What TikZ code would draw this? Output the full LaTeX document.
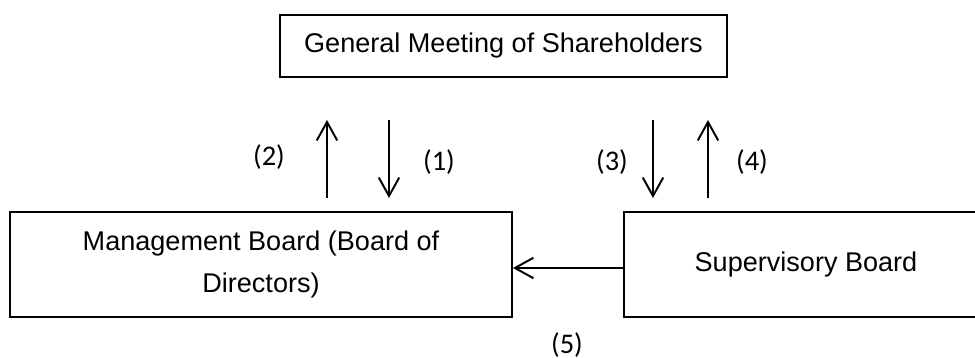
\documentclass[tikz,border=0pt]{standalone}
\usepackage{fontspec}
\setmainfont{Liberation Sans}
\newfontfamily\labelfont{Carlito}
\usetikzlibrary{arrows.meta}
\begin{document}
\begin{tikzpicture}[
    board/.style={draw, line width=1.1pt, inner sep=0pt, font=\fontsize{15.4}{23.6}\selectfont},
    flow/.style={-{Straight Barb[length=3.7mm,width=4.1mm,line width=1.1pt]}, line width=1.1pt},
    num/.style={font=\labelfont\fontsize{16.2}{19}\selectfont}
  ]
            \useasboundingbox (0,0) rectangle (19.5,7.16);
            \node [board, minimum width=8.94cm, minimum height=1.24cm] (gms) at (10.07,6.24) {General Meeting of Shareholders};
            \node [board, minimum width=10.04cm, minimum height=2.1cm, align=center] (mb) at (5.22,1.87) {Management Board (Board of\\Directors)};
            \node [board, minimum width=7.28cm, minimum height=2.1cm] (sb) at (16.12,1.87) {Supervisory Board};
            \coordinate (up2s) at (6.54,3.2);
            \coordinate (up2e) at (6.54,4.76);
            \coordinate (dn1s) at (7.78,4.76);
            \coordinate (dn1e) at (7.78,3.2);
            \coordinate (dn3s) at (13.06,4.76);
            \coordinate (dn3e) at (13.06,3.2);
            \coordinate (up4s) at (14.16,3.2);
            \coordinate (up4e) at (14.16,4.76);
            \draw [flow] (up2s)-- (up2e);
            \draw [flow] (dn1s)-- (dn1e);
            \draw [flow] (dn3s)-- (dn3e);
            \draw [flow] (up4s)-- (up4e);
            \draw [flow] (sb.west|-0,1.8)-- (mb.east|-0,1.8);
            \node [num] (n2) at (5.38,4.02) {(2)};
            \node [num] (n1) at (8.78,3.92) {(1)};
            \node [num] (n3) at (12.24,3.92) {(3)};
            \node [num] (n4) at (15.04,3.92) {(4)};
            \node [num] (n5) at (11.34,0.26) {(5)};
\end{tikzpicture}
\end{document}
